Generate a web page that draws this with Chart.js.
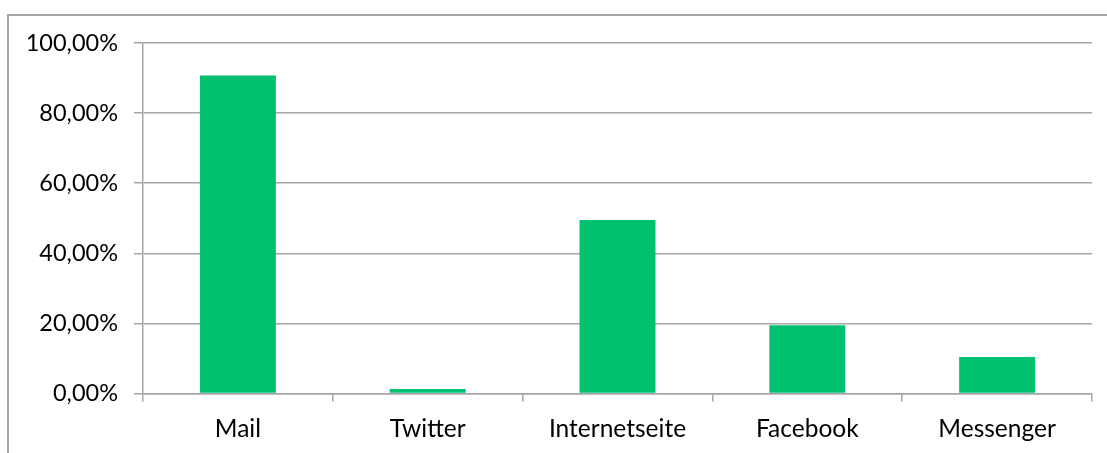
<!DOCTYPE html>
<html>
<head>
<meta charset="utf-8">
<script src="https://cdn.jsdelivr.net/npm/chart.js@4/dist/chart.umd.min.js"></script>
<style>
  html, body { margin: 0; padding: 0; background: #fff; }
  #frame {
    position: absolute; left: 7px; top: 14px; width: 1100px; height: 439px;
    border-left: 2px solid #a6a6a6; border-top: 2px solid #a6a6a6;
    box-sizing: border-box;
  }
  #wrap { position: absolute; left: 0; top: 0; width: 1107px; height: 453px; }
</style>
</head>
<body>
<div id="frame"></div>
<div id="wrap"><canvas id="chart"></canvas></div>
<script>
const categories = ["Mail", "Twitter", "Internetseite", "Facebook", "Messenger"];
const shares = [0.907, 0.013, 0.495, 0.195, 0.104];
const yTicks = [0, 0.2, 0.4, 0.6, 0.8, 1.0];

const gridColor = "#a6a6a6";

const chart = new Chart(
  document.getElementById("chart"),
  {
    type: 'bar',
    data: {
      labels: categories,
      datasets: [
        {
          data: shares,
          backgroundColor: "#00c070",
          borderWidth: 0,
          barPercentage: 0.4,
          categoryPercentage: 1
        }
      ]
    },
    options: {
      responsive: true,
      maintainAspectRatio: false,
      animation: false,
      layout: { padding: { left: 0, right: 15, top: 43, bottom: 0 } },
      plugins: { legend: { display: false }, tooltip: { enabled: false } },
      scales: {
        x: {
          offset: true,
          grid: {
            display: true,
            drawOnChartArea: false,
            drawTicks: true,
            tickLength: 8,
            color: gridColor,
            lineWidth: 1.5
          },
          border: { display: true, color: gridColor, width: 1.5 },
          ticks: { color: "#000", font: { family: "Lato", size: 24.5 }, padding: 13, maxRotation: 0 },
          afterFit: s => { s.height = 59.5; }
        },
        y: {
          min: 0,
          max: 1,
          afterBuildTicks: s => { s.ticks = yTicks.map(v => ({ value: v })); },
          grid: {
            color: gridColor,
            lineWidth: 1.5,
            tickLength: 9
          },
          border: { display: true, color: gridColor, width: 1.5 },
          ticks: {
            color: "#000",
            font: { family: "Lato", size: 23.5 },
            padding: 16,
            callback: v => (v * 100).toFixed(2).replace(".", ",") + "%"
          },
          afterFit: s => { s.width = 143; }
        }
      }
    }
  }
);
</script>
</body>
</html>
